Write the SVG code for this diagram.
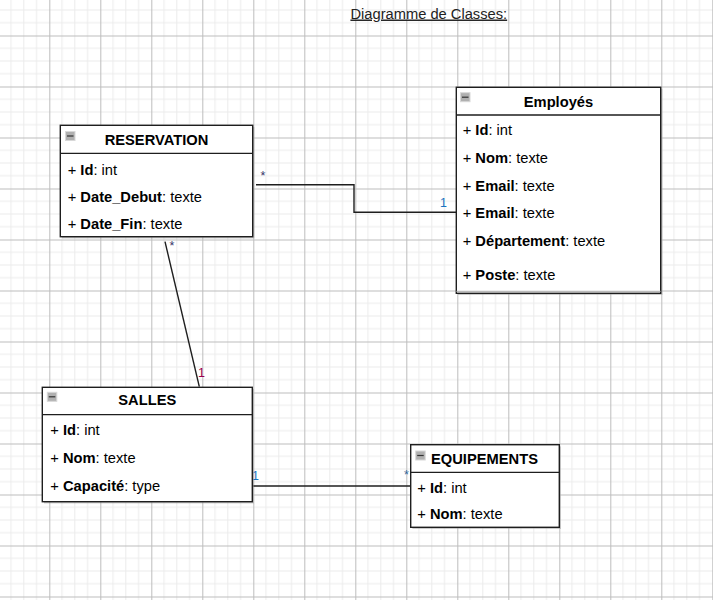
<svg xmlns="http://www.w3.org/2000/svg" width="713" height="600" viewBox="0 0 713 600">
<defs>
<pattern id="grid" patternUnits="userSpaceOnUse" x="-1.7" y="35.5" width="51" height="51">
<g stroke="#ebebeb" stroke-width="1">
<line x1="12.75" y1="0" x2="12.75" y2="51"/><line x1="25.5" y1="0" x2="25.5" y2="51"/><line x1="38.25" y1="0" x2="38.25" y2="51"/>
<line x1="0" y1="12.75" x2="51" y2="12.75"/><line x1="0" y1="25.5" x2="51" y2="25.5"/><line x1="0" y1="38.25" x2="51" y2="38.25"/>
</g>
<g stroke="#bdbdbd" stroke-width="1">
<line x1="0.5" y1="0" x2="0.5" y2="51"/><line x1="0" y1="0.5" x2="51" y2="0.5"/>
</g>
</pattern>
<g id="minus">
<rect x="0" y="0" width="9.5" height="9" fill="#b0b0b0" stroke="#d8d8d8" stroke-width="1"/>
<line x1="1.5" y1="4.5" x2="8" y2="4.5" stroke="#333" stroke-width="1.2"/>
</g>
</defs>
<style>
.box{fill:#fff;stroke:#1e1e1e;stroke-width:1.4}
.div{stroke:#1e1e1e;stroke-width:1.3}
.shadow{fill:#9a9a9a;opacity:0.5}
text{font-family:"Liberation Sans",Arial,sans-serif;fill:#000}
.hd{font-size:14.7px;font-weight:bold;text-anchor:middle}
.at{font-size:14.7px}
.b{font-weight:bold}
.conn{fill:none;stroke:#1e1e1e;stroke-width:1.4}
.lbl{font-size:12.5px}
</style>
<rect width="713" height="600" fill="#fff"/>
<rect width="713" height="600" fill="url(#grid)"/>

<text x="428.8" y="18.5" font-size="14.7px" text-anchor="middle" text-decoration="underline" style="fill:#222">Diagramme de Classes:</text>

<g id="connectors">
<polyline class="conn" points="256,184.7 354,184.7 354,212.3 456.7,212.3"/>
<text class="lbl" x="260.5" y="180" style="fill:#333366">*</text>
<text class="lbl" x="440" y="207" style="fill:#1a73c0">1</text>
<line class="conn" x1="165" y1="241.7" x2="199.3" y2="386.7"/>
<text class="lbl" x="169.5" y="250" style="fill:#333366">*</text>
<text class="lbl" x="198" y="377" style="fill:#99004d">1</text>
<line class="conn" x1="252.7" y1="486" x2="410.7" y2="486"/>
<text class="lbl" x="252" y="479.5" style="fill:#1a73c0">1</text>
<text class="lbl" x="404" y="479" style="fill:#336699">*</text>
</g>

<g id="reservation">
<rect class="shadow" x="62" y="127" width="192.4" height="111.4"/>
<rect class="box" x="60.3" y="125.3" width="192.4" height="111.4"/>
<line class="div" x1="60.3" y1="153.3" x2="252.7" y2="153.3"/>
<use href="#minus" x="65.5" y="131.5"/>
<text class="hd" x="156.5" y="145">RESERVATION</text>
<text class="at" x="67.7" y="175">+ <tspan class="b">Id</tspan>: int</text>
<text class="at" x="67.7" y="201.7">+ <tspan class="b">Date_Debut</tspan>: texte</text>
<text class="at" x="67.7" y="229.3">+ <tspan class="b">Date_Fin</tspan>: texte</text>
</g>

<g id="employes">
<rect class="shadow" x="458" y="89" width="204.4" height="206"/>
<rect class="box" x="456.3" y="87.3" width="204.4" height="206"/>
<line class="div" x1="456.3" y1="115" x2="660.7" y2="115"/>
<line x1="456.3" y1="291.3" x2="660.7" y2="291.3" stroke="#aaa" stroke-width="1"/>
<use href="#minus" x="460.5" y="92.7"/>
<text class="hd" x="558.5" y="106.7">Employés</text>
<text class="at" x="462.7" y="135">+ <tspan class="b">Id</tspan>: int</text>
<text class="at" x="462.7" y="162.7">+ <tspan class="b">Nom</tspan>: texte</text>
<text class="at" x="462.7" y="191">+ <tspan class="b">Email</tspan>: texte</text>
<text class="at" x="462.7" y="218.3">+ <tspan class="b">Email</tspan>: texte</text>
<text class="at" x="462.7" y="246">+ <tspan class="b">Département</tspan>: texte</text>
<text class="at" x="462.7" y="280">+ <tspan class="b">Poste</tspan>: texte</text>
</g>

<g id="salles">
<rect class="shadow" x="44" y="389" width="210" height="114.4"/>
<rect class="box" x="42.3" y="387.3" width="210" height="114.4"/>
<line class="div" x1="42.3" y1="414.7" x2="252.3" y2="414.7"/>
<use href="#minus" x="47.3" y="392.3"/>
<text class="hd" x="147.3" y="405.3">SALLES</text>
<text class="at" x="50.3" y="435">+ <tspan class="b">Id</tspan>: int</text>
<text class="at" x="50.3" y="463.3">+ <tspan class="b">Nom</tspan>: texte</text>
<text class="at" x="50.3" y="490.7">+ <tspan class="b">Capacité</tspan>: type</text>
</g>

<g id="equipements">
<rect class="shadow" x="412.4" y="446.4" width="148.6" height="82.6"/>
<rect class="box" x="410.7" y="444.7" width="148.6" height="82.6"/>
<line class="div" x1="410.7" y1="472.3" x2="559.3" y2="472.3"/>
<use href="#minus" x="415.7" y="451"/>
<text class="hd" x="484.5" y="464">EQUIPEMENTS</text>
<text class="at" x="417.3" y="493.3">+ <tspan class="b">Id</tspan>: int</text>
<text class="at" x="417.3" y="519.3">+ <tspan class="b">Nom</tspan>: texte</text>
</g>
</svg>
